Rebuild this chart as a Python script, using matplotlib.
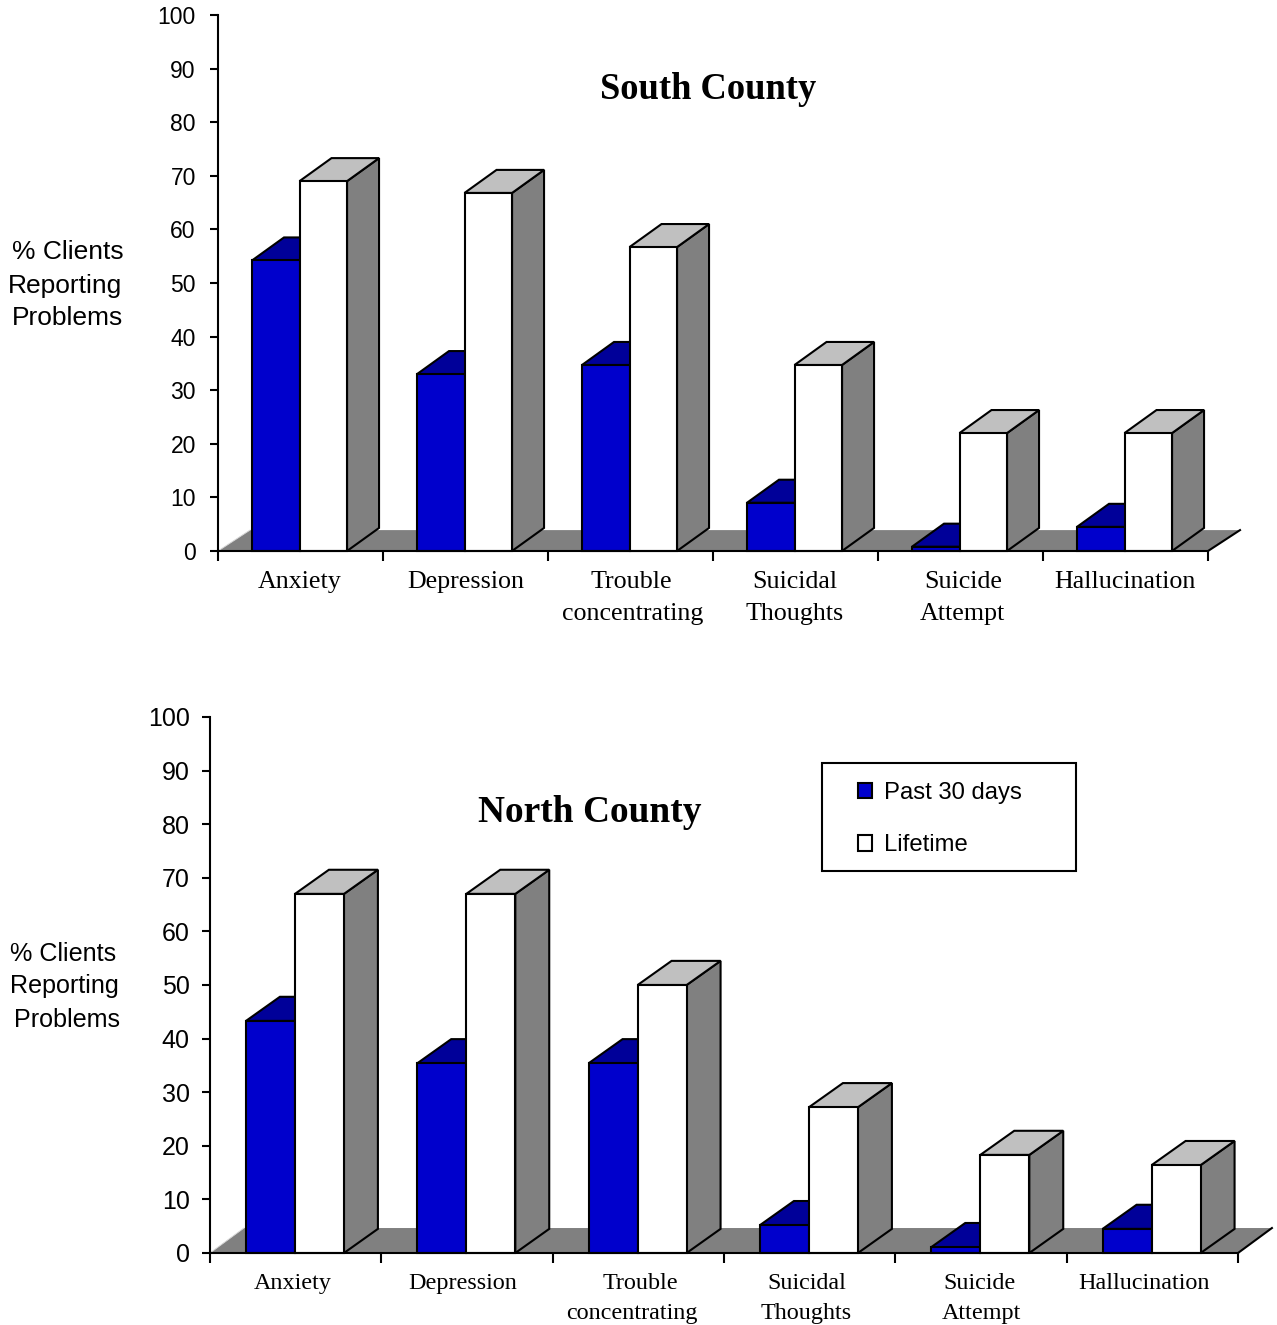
import matplotlib
matplotlib.use("Agg")
import matplotlib.pyplot as plt
from matplotlib.patches import Patch, Rectangle

W, H = 1277, 1325
SERIF = "Liberation Serif"
SANS = "Liberation Sans"
plt.rcParams["font.family"] = SANS

BLUE_FRONT, BLUE_TOP = "#0000CC", "#000099"
SIDE, TOP = "#808080", "#C0C0C0"
LINE = 1.5

# Percent of clients reporting each problem
south_past = [54.2, 33, 34.7, 9, 0.8, 4.5]
south_life = [69, 66.8, 56.7, 34.7, 22, 22]
north_past = [43.3, 35.4, 35.4, 5.2, 1.1, 4.5]
north_life = [67, 67, 50, 27.2, 18.3, 16.4]

south_labels = [["Anxiety"], ["Depression"], ["Trouble", "concentrating"],
                ["Suicidal", "Thoughts"], ["Suicide", "Attempt"], ["Hallucination"]]
north_labels = south_labels

# Label centres in category units, one per text line
south_centers = [[0.497], [1.503], [2.503, 2.515], [3.497, 3.497], [4.515, 4.509], [5.497]]
north_centers = [[0.485], [1.477], [2.51, 2.46], [3.485, 3.479], [4.49, 4.50], [5.45]]


def fx(px):
    return px / W


def fy(py):
    return 1 - py / H


def panel(left, right, y0, y100, past, life, labels, centers, title, title_xy,
          title_size, label_size, tick_size, tick_pad, start, width, dx, dy, floor_dy, baselines):
    ax = fig.add_axes([fx(left), fy(y0), fx(right - left), (y0 - y100) / H])
    ax.set_facecolor("none")
    ax.set_xlim(0, 6)
    ax.set_ylim(0, 100)
    for s in ("top", "right"):
        ax.spines[s].set_visible(False)
    for s in ("left", "bottom"):
        ax.spines[s].set_linewidth(LINE)
        ax.spines[s].set_zorder(20)
    ax.set_xticks(range(7))
    ax.set_xticklabels([])
    ax.set_yticks(range(0, 101, 10))
    ax.tick_params(axis="x", length=7, width=LINE)
    ax.tick_params(axis="y", length=6, width=LINE, labelsize=tick_size, pad=tick_pad)

    poly = dict(clip_on=False, edgecolor="black", linewidth=LINE, joinstyle="miter")

    # Floor behind the bars
    ax.fill([0, dx, 6 + dx, 6], [0, floor_dy, floor_dy, 0], color=SIDE, lw=0,
            clip_on=False, zorder=1)
    ax.plot([0, dx], [0, floor_dy], color="#D8D8D8", lw=0.7, clip_on=False, zorder=2)
    ax.plot([6, 6 + dx], [0, floor_dy], color="black", lw=LINE, clip_on=False, zorder=2)

    for i, (p, l) in enumerate(zip(past, life)):
        x0 = i + start
        x1 = x0 + width
        x2 = x1 + width
        ax.fill([x0, x0 + dx, x1 + dx, x1], [p, p + dy, p + dy, p],
                facecolor=BLUE_TOP, zorder=3, **poly)
        ax.fill([x0, x1, x1, x0], [0, 0, p, p], facecolor=BLUE_FRONT, zorder=4, **poly)
        ax.fill([x2, x2 + dx, x2 + dx, x2], [0, dy, l + dy, l], facecolor=SIDE, zorder=5, **poly)
        ax.fill([x1, x1 + dx, x2 + dx, x2], [l, l + dy, l + dy, l], facecolor=TOP, zorder=5, **poly)
        ax.fill([x1, x2, x2, x1], [0, 0, l, l], facecolor="white", zorder=6, **poly)

    # Category names sit on fixed baselines under the axis
    scale = (y0 - y100) / 100
    for lines, xs in zip(labels, centers):
        for text, x, b in zip(lines, xs, baselines):
            ax.text(x, (y0 - b) / scale, text, family=SERIF, fontsize=label_size,
                    ha="center", va="baseline", clip_on=False)

    ax.text(title_xy[0], title_xy[1], title, family=SERIF, weight="bold",
            fontsize=title_size, ha="center", va="baseline", zorder=10)
    return ax


fig = plt.figure(figsize=(W / 100, H / 100), dpi=100, facecolor="white")

panel(218, 1208, 551, 15, south_past, south_life, south_labels, south_centers,
      "South County", (2.97, 84.3), 26.3, 18.7, 16.5, 10, 0.206, 0.288, 0.194, 4.3, 3.9, (588, 620))

ax2 = panel(210, 1238, 1253, 717, north_past, north_life, north_labels, north_centers,
            "North County", (2.218, 80.4), 26.9, 17.4, 18, 8.5, 0.21, 0.286, 0.198, 4.5, 4.66, (1289, 1319))

# Axis captions, one line at a time
for text, cx, base, size in [("% Clients", 67.5, 259, 19), ("Reporting", 65, 293, 19), ("Problems", 67, 325, 19),
                             ("% Clients", 63.5, 961, 18.1), ("Reporting", 64, 993, 18.1), ("Problems", 67.5, 1027, 18.1)]:
    fig.text(fx(cx), fy(base), text, fontsize=size, ha="center", va="baseline")

# Legend box
fig.add_artist(Rectangle((fx(822), fy(871)), fx(254), 108 / H, transform=fig.transFigure,
                         facecolor="white", edgecolor="black", linewidth=LINE, zorder=30))
leg = fig.legend(
    handles=[Patch(facecolor=BLUE_FRONT, edgecolor="black", linewidth=LINE, label="Past 30 days"),
             Patch(facecolor="white", edgecolor="black", linewidth=LINE, label="Lifetime")],
    loc="upper left", bbox_to_anchor=(fx(858), fy(782)), bbox_transform=fig.transFigure,
    frameon=False, fontsize=17.2, handlelength=0.6, handleheight=0.6,
    handletextpad=0.5, labelspacing=1.27, borderpad=0, borderaxespad=0)
leg.set_zorder(31)

fig.savefig("out.png", dpi=100)
